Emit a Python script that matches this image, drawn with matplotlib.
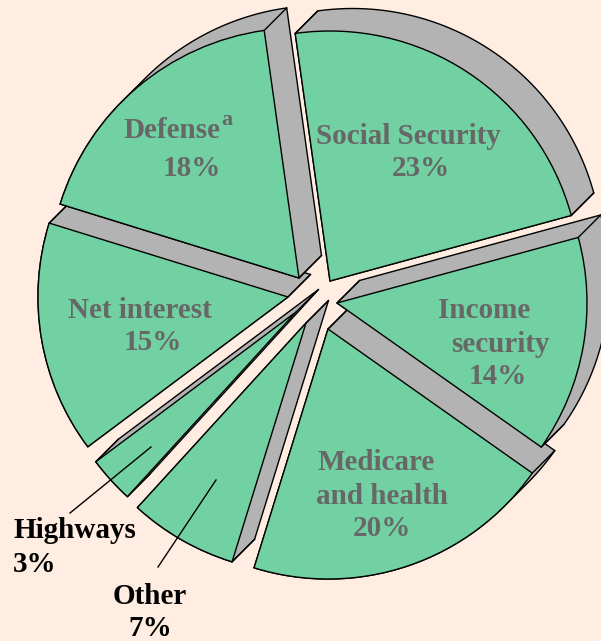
"""Exploded pie of federal outlays with a slanted 3-D edge on every slice."""

import numpy as np
import matplotlib
matplotlib.use("Agg")
import matplotlib.pyplot as plt
from matplotlib.patches import Polygon

W, H = 601, 641

CATEGORIES = ["Social Security", "Income security", "Medicare and health",
              "Other", "Highways", "Net interest", "Defense"]
SHARES = [23, 14, 20, 7, 3, 15, 18]

# layout (pixels): pie centre, radius and how far each slice is pulled out
CENTER = (316, H - 297)
RADIUS = 250
SHIFT_X = [14, 21, 12, -10, -20, -28, -17]
SHIFT_Y = [16, -6, -32, -26, -15, 0, 19]
DEPTH = np.array([22.5, 22.5])   # offset of the back face, up and right

BG = "#FEEDE0"
FACE = "#72D1A2"
SIDE = "#B3B3B3"
TXT = "#676767"


def convex_hull(points):
    pts = sorted(set(map(tuple, np.round(points, 4))))

    def cross(o, a, b):
        return (a[0] - o[0]) * (b[1] - o[1]) - (a[1] - o[1]) * (b[0] - o[0])

    lower, upper = [], []
    for p in pts:
        while len(lower) >= 2 and cross(lower[-2], lower[-1], p) <= 0:
            lower.pop()
        lower.append(p)
    for p in reversed(pts):
        while len(upper) >= 2 and cross(upper[-2], upper[-1], p) <= 0:
            upper.pop()
        upper.append(p)
    return np.array(lower[:-1] + upper[:-1])


fig = plt.figure(figsize=(W / 100, H / 100), dpi=100, facecolor=BG)
ax = fig.add_axes([0, 0, 1, 1])
ax.set_facecolor(BG)

wedges, _ = ax.pie(
    SHARES,
    startangle=98, counterclock=False,
    radius=RADIUS, center=CENTER,
    colors=[FACE] * len(SHARES),
    wedgeprops=dict(edgecolor="black", linewidth=1.0),
)

# pull slices apart, then draw the extruded sides under every front face
for w, sx, sy in zip(wedges, SHIFT_X, SHIFT_Y):
    cx, cy = w.center
    w.set_center((cx + sx, cy + sy))
    cx, cy = w.center
    t = np.radians(np.linspace(w.theta1, w.theta2, 160))
    arc = np.column_stack([cx + w.r * np.cos(t), cy + w.r * np.sin(t)])
    front = np.vstack([[cx, cy], arc])
    back = front + DEPTH
    ax.add_patch(Polygon(convex_hull(np.vstack([front, back])), closed=True,
                         facecolor=SIDE, edgecolor="black", linewidth=1.0,
                         zorder=1))
    for p in (front[0], arc[0], arc[-1]):
        ax.plot([p[0], p[0] + DEPTH[0]], [p[1], p[1] + DEPTH[1]],
                color="black", linewidth=1.0, zorder=1.5)
    w.set_zorder(2)

ax.set_xlim(0, W)
ax.set_ylim(0, H)
ax.set_aspect("equal")
ax.axis("off")

font = dict(family="Liberation Serif", fontweight="bold", fontsize=21,
            ha="center", va="center", zorder=4)


def label(x, y, s, color=TXT, **kw):
    opts = dict(font, color=color)
    opts.update(kw)
    ax.text(x, H - y, s, **opts)


label(172, 131, "Defense")
label(227, 120, "a", fontsize=16)
label(192, 169, "18%")

label(408, 136, "Social Security")
label(421, 169, "23%")

label(140, 310, "Net interest")
label(153, 342, "15%")

label(484, 310, "Income")
label(500, 344, "security")
label(498, 377, "14%")

label(376, 463, "Medicare")
label(382, 497, "and health")
label(382, 528, "20%")

label(13, 531, "Highways", color="black", ha="left")
label(13, 565, "3%", color="black", ha="left")
label(150, 596, "Other", color="black")
label(150, 628, "7%", color="black")

# leader lines
ax.plot([70, 151], [H - 513, H - 447], color="black", linewidth=1.0, zorder=3)
ax.plot([158, 216], [H - 567, H - 480], color="black", linewidth=1.0, zorder=3)

fig.savefig("out.png", dpi=100, facecolor=BG)
